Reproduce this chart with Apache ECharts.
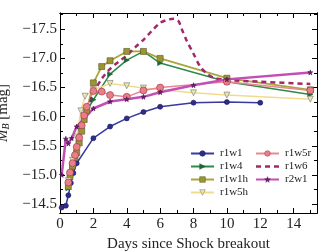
<!DOCTYPE html>
<html><head><meta charset="utf-8">
<script src="https://cdn.jsdelivr.net/npm/echarts@6/dist/echarts.min.js"></script>
<style>html,body{margin:0;padding:0;background:#fff}#c{width:335px;height:252px}</style>
</head><body><div id="c"></div>
<script>
// ---- data ----
const r1w1_x = [0.1,0.35,0.5,0.65,0.8,1.0,2,3,4,5,6,8,10,12];
const r1w1_y = [-14.44,-14.47,-14.65,-14.86,-15.03,-15.2,-15.63,-15.83,-15.97,-16.08,-16.17,-16.24,-16.25,-16.24];

const r1w4_x = [0.5,0.6,0.75,0.9,1.0,1.15,1.3,1.45,1.6,2,3,4,5,6,10,15];
const r1w4_y = [-14.77,-14.95,-15.15,-15.3,-15.42,-15.6,-15.8,-15.98,-16.1,-16.29,-16.73,-16.97,-17.12,-16.92,-16.6,-16.38];

const r1w1h_x = [0.5,0.6,0.75,0.9,1.0,1.15,1.3,1.45,1.6,2,2.5,3,4,5,6,10,15];
const r1w1h_y = [-14.8,-14.97,-15.15,-15.3,-15.38,-15.55,-15.75,-15.95,-16.1,-16.58,-16.86,-16.96,-17.12,-17.12,-17.0,-16.66,-16.46];

const r1w5h_x = [0.5,0.75,1.0,1.25,1.5,2,3,4,5,6,8,10,15];
const r1w5h_y = [-14.9,-15.25,-15.65,-16.1,-16.35,-16.46,-16.57,-16.53,-16.49,-16.46,-16.41,-16.37,-16.3];

const r1w5r_x = [0.5,0.6,0.75,0.9,1.0,1.15,1.3,1.45,1.6,2,2.5,3,4,5,6,10,15];
const r1w5r_y = [-14.87,-15.04,-15.2,-15.34,-15.48,-15.64,-15.85,-16.02,-16.17,-16.44,-16.43,-16.37,-16.34,-16.45,-16.5,-16.6,-16.45];

const r1w6_x = [0.5,1.0,1.5,2,2.5,3,3.5,4,4.5,5,5.5,6,6.4,6.8,7.1,7.3,7.6,8.0,8.4,8.8,9.2,10,12,15];
const r1w6_y = [-14.75,-15.45,-16.0,-16.4,-16.65,-16.82,-16.94,-17.05,-17.19,-17.32,-17.47,-17.61,-17.66,-17.68,-17.64,-17.5,-17.3,-17.08,-16.86,-16.74,-16.67,-16.63,-16.6,-16.56];

const r2w1_x = [0.1,0.35,0.5,0.7,1.0,2,3,4,5,6,8,10,15];
const r2w1_y = [-15.0,-15.62,-15.54,-15.63,-15.83,-16.14,-16.26,-16.3,-16.34,-16.42,-16.54,-16.64,-16.76];

const xMajorTicks = [0,2,4,6,8,10,12,14];
const xMinorTicks = [0,1,2,3,4,5,6,7,8,9,10,11,12,13,14,15];
const yMajorTicks = [-17.5,-17.0,-16.5,-16.0,-15.5,-15.0,-14.5];
const yMinorTicks = [-17.75,-17.5,-17.25,-17.0,-16.75,-16.5,-16.25,-16.0,-15.75,-15.5,-15.25,-15.0,-14.75,-14.5];

const legendCol1 = ['r1w1','r1w4','r1w1h','r1w5h'];
const legendCol2 = ['r1w5r','r1w6','r2w1'];

// ---- chart ----
const FONT = 'Liberation Serif';
const X_MIN = 0, X_MAX = 15.4, Y_MIN = -17.78, Y_MAX = -14.345;
const pairs = (xs, ys) => xs.map((x, i) => [x, ys[i]]);
const STAR = 'path://M50,0 L61,35 L98,35 L68,57 L79,91 L50,70 L21,91 L32,57 L2,35 L39,35 Z';
const DASH_ICON = 'path://M0,0 L0.01,0 L0,0.01 Z M0,2.3 H5 V4.7 H0 Z M9,2.3 H14 V4.7 H9 Z M18,2.3 H23 V4.7 H18 Z M23,7 L22.99,7 L23,6.99 Z';
const fmtY = v => '\u2212' + Math.abs(v).toFixed(1);

function xAx(pos, ticks, len, labels) {
  return {
    type: 'value', position: pos, min: X_MIN, max: X_MAX,
    axisLine: {show: true, onZero: false, lineStyle: {color: '#000', width: 1}},
    axisTick: {show: true, inside: true, length: len, customValues: ticks, lineStyle: {color: '#000'}},
    axisLabel: labels ? {show: true, customValues: xMajorTicks, margin: 4, fontFamily: FONT, fontSize: 15, color: '#222'} : {show: false},
    splitLine: {show: false},
    name: labels ? 'Days since Shock breakout' : '',
    nameLocation: 'middle', nameGap: 22,
    nameTextStyle: {fontFamily: FONT, fontSize: 15, color: '#222'}
  };
}
function yAx(pos, ticks, len, labels) {
  return {
    type: 'value', position: pos, inverse: true, min: Y_MIN, max: Y_MAX,
    axisLine: {show: true, onZero: false, lineStyle: {color: '#000', width: 1}},
    axisTick: {show: true, inside: true, length: len, customValues: ticks, lineStyle: {color: '#000'}},
    axisLabel: labels ? {show: true, customValues: yMajorTicks, formatter: fmtY, margin: 3, fontFamily: FONT, fontSize: 15, color: '#222'} : {show: false},
    splitLine: {show: false},
    name: labels ? '{m|M}{b|B}{t| [mag]}' : '',
    nameLocation: 'middle', nameGap: 38,
    nameTextStyle: {fontFamily: FONT, fontSize: 15, color: '#222',
      rich: {m: {fontFamily: FONT, fontSize: 15, fontStyle: 'italic', color: '#222'},
             b: {fontFamily: FONT, fontSize: 10, fontStyle: 'italic', color: '#222', padding: [6, 0, 0, 0]},
             t: {fontFamily: FONT, fontSize: 15, color: '#222'}}}
  };
}

function ser(name, xs, ys, lineColor, width, sym, symSize, fill, border, extra) {
  return Object.assign({
    name, type: 'line', data: pairs(xs, ys),
    symbol: sym, symbolSize: symSize, showSymbol: sym !== 'none',
    lineStyle: {color: lineColor, width: width},
    itemStyle: {color: fill, borderColor: border, borderWidth: 0.6},
    z: 3
  }, extra || {});
}

const legendBase = {
  orient: 'vertical', itemWidth: 23, itemHeight: 7, itemGap: 2,
  itemStyle: {borderWidth: 0.5},
  textStyle: {fontFamily: FONT, fontSize: 11, color: '#222', padding: [0, 0, 0, 1]},
  padding: 0, inactiveColor: '#ccc'
};
const legendItems = names => names.map(n => n === 'r1w6'
  ? {name: n, icon: DASH_ICON, itemStyle: {color: '#a2286e', borderWidth: 0}}
  : {name: n});

const option = {
  animation: false,
  backgroundColor: '#fff',
  grid: {left: 60, top: 13, width: 257, height: 200, containLabel: false, outerBoundsMode: 'none'},
  xAxis: [xAx('bottom', xMajorTicks, 5, true), xAx('bottom', xMinorTicks, 3, false),
          xAx('top', xMajorTicks, 5, false), xAx('top', xMinorTicks, 3, false)],
  yAxis: [yAx('left', yMajorTicks, 5, true), yAx('left', yMinorTicks, 3, false),
          yAx('right', yMajorTicks, 5, false), yAx('right', yMinorTicks, 3, false)],
  legend: [
    Object.assign({}, legendBase, {data: legendItems(legendCol1), left: 190, top: 148}),
    Object.assign({}, legendBase, {data: legendItems(legendCol2), left: 255, top: 148})
  ],
  series: [
    ser('r1w1', r1w1_x, r1w1_y, '#3a3a9e', 1.5, 'circle', 5, '#2e2e8a', '#1a1a5a'),
    ser('r1w4', r1w4_x, r1w4_y, '#2e8a48', 1.5, 'triangle', 5, '#1e6a34', '#1e5a2a', {symbolRotate: -90}),
    ser('r1w1h', r1w1h_x, r1w1h_y, '#aca43c', 1.8, 'rect', 6, '#9c9630', '#555520'),
    ser('r1w5h', r1w5h_x, r1w5h_y, '#f2dc8c', 1.5, 'triangle', 6, '#e8e2c0', '#777760', {symbolRotate: 180}),
    ser('r1w5r', r1w5r_x, r1w5r_y, '#e88894', 1.5, 'circle', 7, '#e87e8a', '#9a3040'),
    ser('r1w6', r1w6_x, r1w6_y, '#a2286e', 2.5, 'none', 0, '#a2286e', '#a2286e', {smooth: 0.3, lineStyle: {color: '#a2286e', width: 2.5, type: [5, 4]}}),
    ser('r2w1', r2w1_x, r2w1_y, '#c24fb4', 2.5, STAR, 5, '#6a2070', '#4a1050')
  ]
};
const chart = echarts.init(document.getElementById('c'), null, {renderer: 'canvas'});
chart.setOption(option);
</script></body></html>
